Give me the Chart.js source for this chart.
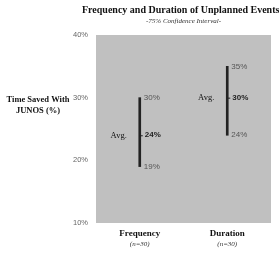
<!DOCTYPE html>
<html>
<head>
<meta charset="utf-8">
<script src="https://cdn.jsdelivr.net/npm/chart.js@4"></script>
<style>
  html, body { margin: 0; padding: 0; background: #fff; }
  #wrap { width: 279px; height: 253px; }
</style>
</head>
<body>
<div id="wrap"><canvas id="c" width="279" height="253"></canvas></div>
<script>
// data
const categories = ['Frequency', 'Duration'];
const sampleSizes = ['(n=30)', '(n=30)'];
const lows = [19, 24];
const highs = [30, 35];
const averages = [24, 30];
const yTicks = [10, 20, 30, 40];

const serif = "'Liberation Serif', 'Times New Roman', serif";
const sans = "'Liberation Sans', Arial, sans-serif";

// grey plot background + all the annotation text
const decor = {
  id: 'decor',
  beforeDraw(chart) {
    const { ctx, chartArea: a } = chart;
    ctx.save();
    ctx.fillStyle = '#c0c0c0';
    ctx.fillRect(a.left, a.top, a.right - a.left, a.bottom - a.top);
    ctx.restore();
  },
  afterDraw(chart) {
    const { ctx, chartArea: a, scales } = chart;
    const x = scales.x, y = scales.y;
    const mid = (a.left + a.right) / 2;
    ctx.save();
    ctx.textBaseline = 'middle';
    ctx.fillStyle = '#111';
    ctx.textAlign = 'left';
    ctx.font = 'bold 10px ' + serif;
    ctx.fillText('Frequency and Duration of Unplanned Events', 82, 10);
    ctx.textAlign = 'center';
    ctx.font = 'italic 7px ' + serif;
    ctx.fillStyle = '#333';
    ctx.fillText('-75% Confidence Interval-', mid, 21);

    // axis title
    ctx.fillStyle = '#111';
    ctx.font = 'bold 8.5px ' + serif;
    ctx.fillText('Time Saved With', 38, 100);
    ctx.fillText('JUNOS (%)', 38, 111);

    categories.forEach((c, i) => {
      const px = x.getPixelForValue(i);
      ctx.textAlign = 'center';
      ctx.fillStyle = '#111';
      ctx.font = 'bold 9px ' + serif;
      ctx.fillText(c, px, 234);
      ctx.font = 'italic 7px ' + serif;
      ctx.fillStyle = '#333';
      ctx.fillText(sampleSizes[i], px, 244);

      const ya = y.getPixelForValue(averages[i]);
      ctx.strokeStyle = '#222';
      ctx.lineWidth = 1;
      ctx.beginPath();
      ctx.moveTo(px, ya + 0.5);
      ctx.lineTo(px + 3, ya + 0.5);
      ctx.stroke();

      ctx.textAlign = 'right';
      ctx.fillStyle = '#111';
      ctx.font = '8.5px ' + serif;
      ctx.fillText('Avg.', px - 13, ya);

      ctx.textAlign = 'left';
      ctx.font = '8px ' + sans;
      ctx.fillStyle = '#555';
      ctx.fillText(highs[i] + '%', px + 4, y.getPixelForValue(highs[i]));
      ctx.fillText(lows[i] + '%', px + 4, y.getPixelForValue(lows[i]));
      ctx.font = 'bold 8px ' + sans;
      ctx.fillStyle = '#222';
      ctx.fillText(averages[i] + '%', px + 5, ya);
    });
    ctx.restore();
  }
};

new Chart(document.getElementById('c'), {
  type: 'bar',
  data: {
    labels: categories,
    datasets: [{
      data: lows.map((l, i) => [l, highs[i]]),
      backgroundColor: '#222',
      barThickness: 2,
      borderSkipped: false
    }]
  },
  options: {
    responsive: false,
    animation: false,
    events: [],
    layout: { padding: { top: 35, right: 8, bottom: 30, left: 0 } },
    plugins: { legend: { display: false }, tooltip: { enabled: false } },
    scales: {
      x: { display: false },
      y: {
        min: 10, max: 40,
        afterFit: s => { s.width = 96; },
        afterBuildTicks: s => { s.ticks = yTicks.map(v => ({ value: v })); },
        grid: { display: false },
        border: { display: false },
        ticks: {
          color: '#666',
          padding: 0,
          font: { family: sans, size: 7.5 },
          callback: v => v + '%'
        }
      }
    }
  },
  plugins: [decor]
});
</script>
</body>
</html>
